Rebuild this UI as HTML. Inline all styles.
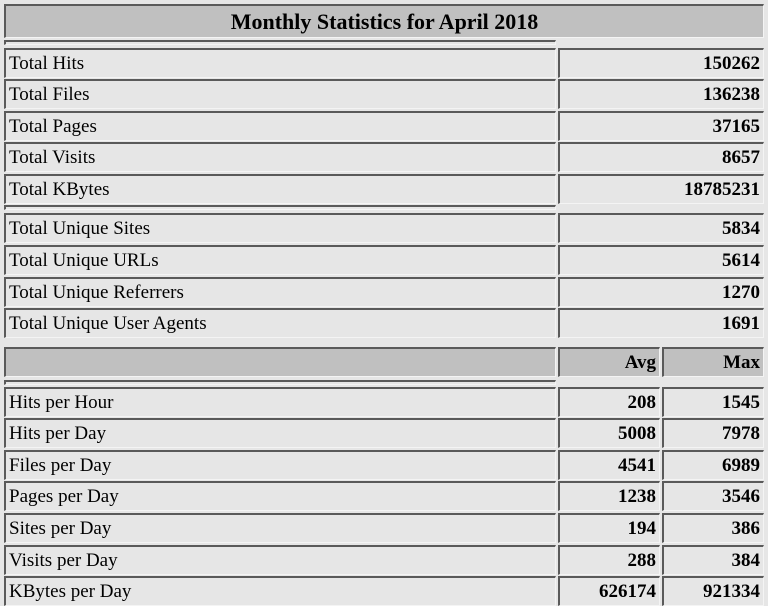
<!DOCTYPE html>
<html><head><style>
body{margin:0;width:768px;height:606px;background:#e6e6e6;overflow:hidden;position:relative;font-family:"Liberation Serif","Times New Roman",serif;font-size:19px;}
div{font-family:"Liberation Serif","Times New Roman",serif;}
</style></head><body>
<div style="position:absolute;box-sizing:border-box;left:4px;top:4px;width:760px;height:34px;border-top:2px solid #5a5a5a;border-left:2px solid #5a5a5a;border-bottom:1px solid #f4f4f4;border-right:1px solid #f4f4f4;background:#c0c0c0;text-align:center;font-weight:bold;font-size:22px;line-height:31px;font-family:'Liberation Serif',serif">Monthly Statistics for April 2018</div>
<div style="position:absolute;box-sizing:border-box;left:4px;top:40px;width:552px;height:5px;border-top:2px solid #5a5a5a;border-left:2px solid #5a5a5a;border-bottom:1px solid #f4f4f4;border-right:1px solid #f4f4f4"></div>
<div style="position:absolute;box-sizing:border-box;left:4px;top:205px;width:552px;height:5px;border-top:2px solid #5a5a5a;border-left:2px solid #5a5a5a;border-bottom:1px solid #f4f4f4;border-right:1px solid #f4f4f4"></div>
<div style="position:absolute;box-sizing:border-box;left:4px;top:380px;width:552px;height:5px;border-top:2px solid #5a5a5a;border-left:2px solid #5a5a5a;border-bottom:1px solid #f4f4f4;border-right:1px solid #f4f4f4"></div>

<svg width="768" height="606" style="position:absolute;left:0;top:0" xmlns="http://www.w3.org/2000/svg" font-family="Liberation Serif, Times New Roman, serif" font-size="19">
<defs>
<g id="x"></g>
</defs>
<!-- cells drawn: rect bg + dark top/left + light bottom/right -->
<g id="cells"></g>
</svg>
<div id="static">
<!-- rows generated statically below -->
</div>
<div style="position:absolute;left:0;top:0;width:768px;height:606px">
<div style="position:absolute;box-sizing:border-box;left:4px;top:48px;width:552px;height:30px;border-top:2px solid #5a5a5a;border-left:2px solid #5a5a5a;border-bottom:1px solid #f4f4f4;border-right:1px solid #f4f4f4;padding-left:3px;font-size:19px;line-height:27px;font-family:'Liberation Serif',serif">Total Hits</div>
<div style="position:absolute;box-sizing:border-box;left:558px;top:48px;width:206px;height:30px;border-top:2px solid #5a5a5a;border-left:2px solid #5a5a5a;border-bottom:1px solid #f4f4f4;border-right:1px solid #f4f4f4;padding-right:3px;text-align:right;font-weight:bold;font-size:19px;line-height:27px;font-family:'Liberation Serif',serif">150262</div>
<div style="position:absolute;box-sizing:border-box;left:4px;top:79px;width:552px;height:30px;border-top:2px solid #5a5a5a;border-left:2px solid #5a5a5a;border-bottom:1px solid #f4f4f4;border-right:1px solid #f4f4f4;padding-left:3px;font-size:19px;line-height:27px;font-family:'Liberation Serif',serif">Total Files</div>
<div style="position:absolute;box-sizing:border-box;left:558px;top:79px;width:206px;height:30px;border-top:2px solid #5a5a5a;border-left:2px solid #5a5a5a;border-bottom:1px solid #f4f4f4;border-right:1px solid #f4f4f4;padding-right:3px;text-align:right;font-weight:bold;font-size:19px;line-height:27px;font-family:'Liberation Serif',serif">136238</div>
<div style="position:absolute;box-sizing:border-box;left:4px;top:111px;width:552px;height:30px;border-top:2px solid #5a5a5a;border-left:2px solid #5a5a5a;border-bottom:1px solid #f4f4f4;border-right:1px solid #f4f4f4;padding-left:3px;font-size:19px;line-height:27px;font-family:'Liberation Serif',serif">Total Pages</div>
<div style="position:absolute;box-sizing:border-box;left:558px;top:111px;width:206px;height:30px;border-top:2px solid #5a5a5a;border-left:2px solid #5a5a5a;border-bottom:1px solid #f4f4f4;border-right:1px solid #f4f4f4;padding-right:3px;text-align:right;font-weight:bold;font-size:19px;line-height:27px;font-family:'Liberation Serif',serif">37165</div>
<div style="position:absolute;box-sizing:border-box;left:4px;top:142px;width:552px;height:30px;border-top:2px solid #5a5a5a;border-left:2px solid #5a5a5a;border-bottom:1px solid #f4f4f4;border-right:1px solid #f4f4f4;padding-left:3px;font-size:19px;line-height:27px;font-family:'Liberation Serif',serif">Total Visits</div>
<div style="position:absolute;box-sizing:border-box;left:558px;top:142px;width:206px;height:30px;border-top:2px solid #5a5a5a;border-left:2px solid #5a5a5a;border-bottom:1px solid #f4f4f4;border-right:1px solid #f4f4f4;padding-right:3px;text-align:right;font-weight:bold;font-size:19px;line-height:27px;font-family:'Liberation Serif',serif">8657</div>
<div style="position:absolute;box-sizing:border-box;left:4px;top:174px;width:552px;height:30px;border-top:2px solid #5a5a5a;border-left:2px solid #5a5a5a;border-bottom:1px solid #f4f4f4;border-right:1px solid #f4f4f4;padding-left:3px;font-size:19px;line-height:27px;font-family:'Liberation Serif',serif">Total KBytes</div>
<div style="position:absolute;box-sizing:border-box;left:558px;top:174px;width:206px;height:30px;border-top:2px solid #5a5a5a;border-left:2px solid #5a5a5a;border-bottom:1px solid #f4f4f4;border-right:1px solid #f4f4f4;padding-right:3px;text-align:right;font-weight:bold;font-size:19px;line-height:27px;font-family:'Liberation Serif',serif">18785231</div>
<div style="position:absolute;box-sizing:border-box;left:4px;top:213px;width:552px;height:30px;border-top:2px solid #5a5a5a;border-left:2px solid #5a5a5a;border-bottom:1px solid #f4f4f4;border-right:1px solid #f4f4f4;padding-left:3px;font-size:19px;line-height:27px;font-family:'Liberation Serif',serif">Total Unique Sites</div>
<div style="position:absolute;box-sizing:border-box;left:558px;top:213px;width:206px;height:30px;border-top:2px solid #5a5a5a;border-left:2px solid #5a5a5a;border-bottom:1px solid #f4f4f4;border-right:1px solid #f4f4f4;padding-right:3px;text-align:right;font-weight:bold;font-size:19px;line-height:27px;font-family:'Liberation Serif',serif">5834</div>
<div style="position:absolute;box-sizing:border-box;left:4px;top:245px;width:552px;height:30px;border-top:2px solid #5a5a5a;border-left:2px solid #5a5a5a;border-bottom:1px solid #f4f4f4;border-right:1px solid #f4f4f4;padding-left:3px;font-size:19px;line-height:27px;font-family:'Liberation Serif',serif">Total Unique URLs</div>
<div style="position:absolute;box-sizing:border-box;left:558px;top:245px;width:206px;height:30px;border-top:2px solid #5a5a5a;border-left:2px solid #5a5a5a;border-bottom:1px solid #f4f4f4;border-right:1px solid #f4f4f4;padding-right:3px;text-align:right;font-weight:bold;font-size:19px;line-height:27px;font-family:'Liberation Serif',serif">5614</div>
<div style="position:absolute;box-sizing:border-box;left:4px;top:277px;width:552px;height:30px;border-top:2px solid #5a5a5a;border-left:2px solid #5a5a5a;border-bottom:1px solid #f4f4f4;border-right:1px solid #f4f4f4;padding-left:3px;font-size:19px;line-height:27px;font-family:'Liberation Serif',serif">Total Unique Referrers</div>
<div style="position:absolute;box-sizing:border-box;left:558px;top:277px;width:206px;height:30px;border-top:2px solid #5a5a5a;border-left:2px solid #5a5a5a;border-bottom:1px solid #f4f4f4;border-right:1px solid #f4f4f4;padding-right:3px;text-align:right;font-weight:bold;font-size:19px;line-height:27px;font-family:'Liberation Serif',serif">1270</div>
<div style="position:absolute;box-sizing:border-box;left:4px;top:308px;width:552px;height:30px;border-top:2px solid #5a5a5a;border-left:2px solid #5a5a5a;border-bottom:1px solid #f4f4f4;border-right:1px solid #f4f4f4;padding-left:3px;font-size:19px;line-height:27px;font-family:'Liberation Serif',serif">Total Unique User Agents</div>
<div style="position:absolute;box-sizing:border-box;left:558px;top:308px;width:206px;height:30px;border-top:2px solid #5a5a5a;border-left:2px solid #5a5a5a;border-bottom:1px solid #f4f4f4;border-right:1px solid #f4f4f4;padding-right:3px;text-align:right;font-weight:bold;font-size:19px;line-height:27px;font-family:'Liberation Serif',serif">1691</div>
<div style="position:absolute;box-sizing:border-box;left:4px;top:347px;width:552px;height:30px;border-top:2px solid #5a5a5a;border-left:2px solid #5a5a5a;border-bottom:1px solid #f4f4f4;border-right:1px solid #f4f4f4;background:#c0c0c0"></div>
<div style="position:absolute;box-sizing:border-box;left:558px;top:347px;width:102px;height:30px;border-top:2px solid #5a5a5a;border-left:2px solid #5a5a5a;border-bottom:1px solid #f4f4f4;border-right:1px solid #f4f4f4;background:#c0c0c0;padding-right:3px;text-align:right;font-weight:bold;font-size:19px;line-height:27px;font-family:'Liberation Serif',serif">Avg</div>
<div style="position:absolute;box-sizing:border-box;left:662px;top:347px;width:102px;height:30px;border-top:2px solid #5a5a5a;border-left:2px solid #5a5a5a;border-bottom:1px solid #f4f4f4;border-right:1px solid #f4f4f4;background:#c0c0c0;padding-right:3px;text-align:right;font-weight:bold;font-size:19px;line-height:27px;font-family:'Liberation Serif',serif">Max</div>
<div style="position:absolute;box-sizing:border-box;left:4px;top:387px;width:552px;height:30px;border-top:2px solid #5a5a5a;border-left:2px solid #5a5a5a;border-bottom:1px solid #f4f4f4;border-right:1px solid #f4f4f4;padding-left:3px;font-size:19px;line-height:27px;font-family:'Liberation Serif',serif">Hits per Hour</div>
<div style="position:absolute;box-sizing:border-box;left:558px;top:387px;width:102px;height:30px;border-top:2px solid #5a5a5a;border-left:2px solid #5a5a5a;border-bottom:1px solid #f4f4f4;border-right:1px solid #f4f4f4;padding-right:3px;text-align:right;font-weight:bold;font-size:19px;line-height:27px;font-family:'Liberation Serif',serif">208</div>
<div style="position:absolute;box-sizing:border-box;left:662px;top:387px;width:102px;height:30px;border-top:2px solid #5a5a5a;border-left:2px solid #5a5a5a;border-bottom:1px solid #f4f4f4;border-right:1px solid #f4f4f4;padding-right:3px;text-align:right;font-weight:bold;font-size:19px;line-height:27px;font-family:'Liberation Serif',serif">1545</div>
<div style="position:absolute;box-sizing:border-box;left:4px;top:418px;width:552px;height:30px;border-top:2px solid #5a5a5a;border-left:2px solid #5a5a5a;border-bottom:1px solid #f4f4f4;border-right:1px solid #f4f4f4;padding-left:3px;font-size:19px;line-height:27px;font-family:'Liberation Serif',serif">Hits per Day</div>
<div style="position:absolute;box-sizing:border-box;left:558px;top:418px;width:102px;height:30px;border-top:2px solid #5a5a5a;border-left:2px solid #5a5a5a;border-bottom:1px solid #f4f4f4;border-right:1px solid #f4f4f4;padding-right:3px;text-align:right;font-weight:bold;font-size:19px;line-height:27px;font-family:'Liberation Serif',serif">5008</div>
<div style="position:absolute;box-sizing:border-box;left:662px;top:418px;width:102px;height:30px;border-top:2px solid #5a5a5a;border-left:2px solid #5a5a5a;border-bottom:1px solid #f4f4f4;border-right:1px solid #f4f4f4;padding-right:3px;text-align:right;font-weight:bold;font-size:19px;line-height:27px;font-family:'Liberation Serif',serif">7978</div>
<div style="position:absolute;box-sizing:border-box;left:4px;top:450px;width:552px;height:30px;border-top:2px solid #5a5a5a;border-left:2px solid #5a5a5a;border-bottom:1px solid #f4f4f4;border-right:1px solid #f4f4f4;padding-left:3px;font-size:19px;line-height:27px;font-family:'Liberation Serif',serif">Files per Day</div>
<div style="position:absolute;box-sizing:border-box;left:558px;top:450px;width:102px;height:30px;border-top:2px solid #5a5a5a;border-left:2px solid #5a5a5a;border-bottom:1px solid #f4f4f4;border-right:1px solid #f4f4f4;padding-right:3px;text-align:right;font-weight:bold;font-size:19px;line-height:27px;font-family:'Liberation Serif',serif">4541</div>
<div style="position:absolute;box-sizing:border-box;left:662px;top:450px;width:102px;height:30px;border-top:2px solid #5a5a5a;border-left:2px solid #5a5a5a;border-bottom:1px solid #f4f4f4;border-right:1px solid #f4f4f4;padding-right:3px;text-align:right;font-weight:bold;font-size:19px;line-height:27px;font-family:'Liberation Serif',serif">6989</div>
<div style="position:absolute;box-sizing:border-box;left:4px;top:481px;width:552px;height:30px;border-top:2px solid #5a5a5a;border-left:2px solid #5a5a5a;border-bottom:1px solid #f4f4f4;border-right:1px solid #f4f4f4;padding-left:3px;font-size:19px;line-height:27px;font-family:'Liberation Serif',serif">Pages per Day</div>
<div style="position:absolute;box-sizing:border-box;left:558px;top:481px;width:102px;height:30px;border-top:2px solid #5a5a5a;border-left:2px solid #5a5a5a;border-bottom:1px solid #f4f4f4;border-right:1px solid #f4f4f4;padding-right:3px;text-align:right;font-weight:bold;font-size:19px;line-height:27px;font-family:'Liberation Serif',serif">1238</div>
<div style="position:absolute;box-sizing:border-box;left:662px;top:481px;width:102px;height:30px;border-top:2px solid #5a5a5a;border-left:2px solid #5a5a5a;border-bottom:1px solid #f4f4f4;border-right:1px solid #f4f4f4;padding-right:3px;text-align:right;font-weight:bold;font-size:19px;line-height:27px;font-family:'Liberation Serif',serif">3546</div>
<div style="position:absolute;box-sizing:border-box;left:4px;top:513px;width:552px;height:30px;border-top:2px solid #5a5a5a;border-left:2px solid #5a5a5a;border-bottom:1px solid #f4f4f4;border-right:1px solid #f4f4f4;padding-left:3px;font-size:19px;line-height:27px;font-family:'Liberation Serif',serif">Sites per Day</div>
<div style="position:absolute;box-sizing:border-box;left:558px;top:513px;width:102px;height:30px;border-top:2px solid #5a5a5a;border-left:2px solid #5a5a5a;border-bottom:1px solid #f4f4f4;border-right:1px solid #f4f4f4;padding-right:3px;text-align:right;font-weight:bold;font-size:19px;line-height:27px;font-family:'Liberation Serif',serif">194</div>
<div style="position:absolute;box-sizing:border-box;left:662px;top:513px;width:102px;height:30px;border-top:2px solid #5a5a5a;border-left:2px solid #5a5a5a;border-bottom:1px solid #f4f4f4;border-right:1px solid #f4f4f4;padding-right:3px;text-align:right;font-weight:bold;font-size:19px;line-height:27px;font-family:'Liberation Serif',serif">386</div>
<div style="position:absolute;box-sizing:border-box;left:4px;top:545px;width:552px;height:30px;border-top:2px solid #5a5a5a;border-left:2px solid #5a5a5a;border-bottom:1px solid #f4f4f4;border-right:1px solid #f4f4f4;padding-left:3px;font-size:19px;line-height:27px;font-family:'Liberation Serif',serif">Visits per Day</div>
<div style="position:absolute;box-sizing:border-box;left:558px;top:545px;width:102px;height:30px;border-top:2px solid #5a5a5a;border-left:2px solid #5a5a5a;border-bottom:1px solid #f4f4f4;border-right:1px solid #f4f4f4;padding-right:3px;text-align:right;font-weight:bold;font-size:19px;line-height:27px;font-family:'Liberation Serif',serif">288</div>
<div style="position:absolute;box-sizing:border-box;left:662px;top:545px;width:102px;height:30px;border-top:2px solid #5a5a5a;border-left:2px solid #5a5a5a;border-bottom:1px solid #f4f4f4;border-right:1px solid #f4f4f4;padding-right:3px;text-align:right;font-weight:bold;font-size:19px;line-height:27px;font-family:'Liberation Serif',serif">384</div>
<div style="position:absolute;box-sizing:border-box;left:4px;top:576px;width:552px;height:30px;border-top:2px solid #5a5a5a;border-left:2px solid #5a5a5a;border-bottom:1px solid #f4f4f4;border-right:1px solid #f4f4f4;padding-left:3px;font-size:19px;line-height:27px;font-family:'Liberation Serif',serif">KBytes per Day</div>
<div style="position:absolute;box-sizing:border-box;left:558px;top:576px;width:102px;height:30px;border-top:2px solid #5a5a5a;border-left:2px solid #5a5a5a;border-bottom:1px solid #f4f4f4;border-right:1px solid #f4f4f4;padding-right:3px;text-align:right;font-weight:bold;font-size:19px;line-height:27px;font-family:'Liberation Serif',serif">626174</div>
<div style="position:absolute;box-sizing:border-box;left:662px;top:576px;width:102px;height:30px;border-top:2px solid #5a5a5a;border-left:2px solid #5a5a5a;border-bottom:1px solid #f4f4f4;border-right:1px solid #f4f4f4;padding-right:3px;text-align:right;font-weight:bold;font-size:19px;line-height:27px;font-family:'Liberation Serif',serif">921334</div>
</div>
</body></html>
